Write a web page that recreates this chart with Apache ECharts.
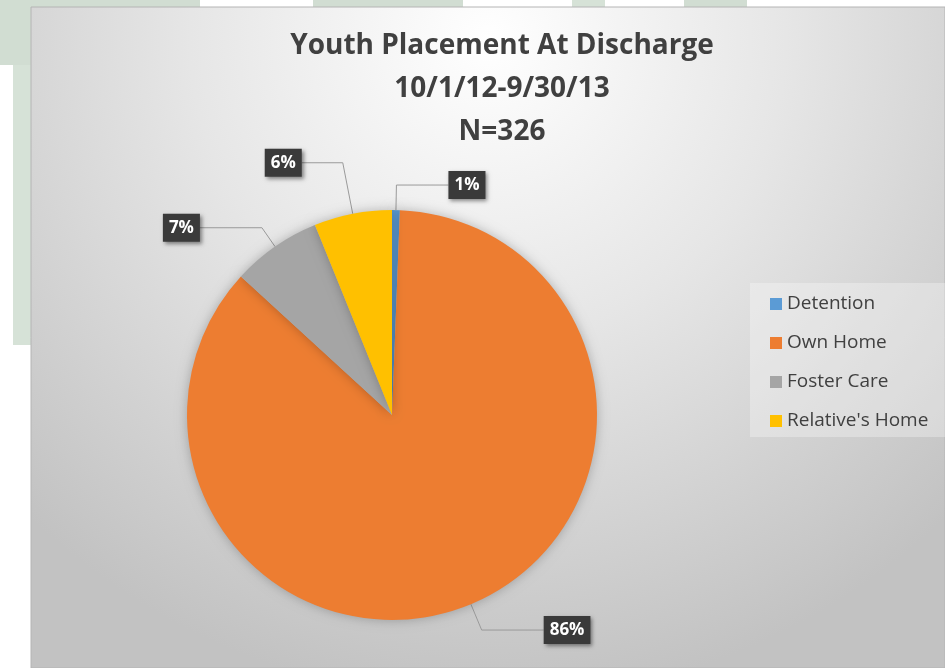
<!DOCTYPE html>
<html>
<head>
<meta charset="utf-8" />
<title>Youth Placement At Discharge</title>
<script src="https://cdn.jsdelivr.net/npm/echarts@6/dist/echarts.min.js"></script>
<style>
html, body { margin: 0; padding: 0; background: #ffffff; }
#chart { width: 945px; height: 668px; }
</style>
</head>
<body>
<div id="chart"></div>
<script type="text/javascript">
// categories and counts (N=326)
var placeNames = ['Detention', 'Own Home', 'Foster Care', "Relative's Home"];
var placeCounts = [2, 281, 23, 20];
var placeColors = ['#5b9bd5', '#ed7d31', '#a5a5a5', '#ffc000'];
// leader line lengths per slice [length, length2]
var leaderLens = [[25, 52], [28, 62], [23, 62], [52, 41]];

var titleLines = ['Youth Placement At Discharge', '10/1/12-9/30/13', 'N=326'];

var myChart = echarts.init(document.getElementById('chart'));

var pieData = [];
for (var i = 0; i < placeNames.length; i++) {
	pieData.push({
		name: placeNames[i],
		value: placeCounts[i],
		itemStyle: { color: placeColors[i] },
		labelLine: { length: leaderLens[i][0], length2: leaderLens[i][1] }
	});
}

var option = {
	backgroundColor: '#ffffff',
	animation: false,
	graphic: [
		// slide background bits
		{ type: 'rect', shape: { x: 0, y: 0, width: 200, height: 65 }, style: { fill: '#d1ddd2' }, z: -10 },
		{ type: 'rect', shape: { x: 13, y: 65, width: 20, height: 280 }, style: { fill: '#d6e2d7' }, z: -10 },
		{ type: 'rect', shape: { x: 313, y: 0, width: 150, height: 10 }, style: { fill: '#d1ddd2' }, z: -10 },
		{ type: 'rect', shape: { x: 572, y: 0, width: 33, height: 10 }, style: { fill: '#d6e2d7' }, z: -10 },
		{ type: 'rect', shape: { x: 684, y: 0, width: 63, height: 10 }, style: { fill: '#d1ddd2' }, z: -10 },
		// chart area
		{
			type: 'rect', z: -5,
			shape: { x: 31, y: 7, width: 914, height: 661 },
			style: {
				fill: new echarts.graphic.RadialGradient(0.5, 0.05, 1.0, [
					{ offset: 0, color: '#ffffff' },
					{ offset: 0.45, color: '#e6e6e6' },
					{ offset: 1, color: '#c2c2c2' }
				]),
				stroke: '#b4b4b4', lineWidth: 1
			}
		},
		// legend box
		{ type: 'rect', z: -4, shape: { x: 750, y: 283, width: 195, height: 154 }, style: { fill: 'rgba(255,255,255,0.3)' } }
	],
	title: {
		text: titleLines.join('\n'),
		left: 497,
		textAlign: 'center',
		top: 20,
		textStyle: {
			fontFamily: 'Open Sans',
			fontWeight: 'bold',
			fontSize: 28,
			lineHeight: 43,
			color: '#404040'
		}
	},
	legend: {
		orient: 'vertical',
		left: 765,
		top: 289,
		icon: 'rect',
		itemWidth: 12,
		itemHeight: 12,
		itemGap: 19,
		data: placeNames,
		textStyle: {
			fontFamily: 'Open Sans',
			fontSize: 19,
			lineHeight: 20,
			color: '#404040'
		}
	},
	series: [{
		type: 'pie',
		center: [392, 415],
		radius: 205,
		startAngle: 90,
		clockwise: true,
		percentPrecision: 0,
		avoidLabelOverlap: false,
		itemStyle: {
			shadowBlur: 12,
			shadowColor: 'rgba(0,0,0,0.25)'
		},
		label: {
			show: true,
			position: 'outside',
			formatter: '{d}%',
			distanceToLabelLine: 0,
			fontFamily: 'Open Sans',
			fontWeight: 'bold',
			fontSize: 17,
			color: '#ffffff',
			backgroundColor: '#3a3a3a',
			padding: [6, 6, 5, 6],
			shadowBlur: 4,
			shadowOffsetX: 2,
			shadowOffsetY: 2,
			shadowColor: 'rgba(0,0,0,0.45)'
		},
		labelLine: {
			show: true,
			smooth: false,
			lineStyle: { color: '#9a9a9a', width: 1 }
		},
		data: pieData
	}]
};
myChart.setOption(option);
</script>
</body>
</html>
